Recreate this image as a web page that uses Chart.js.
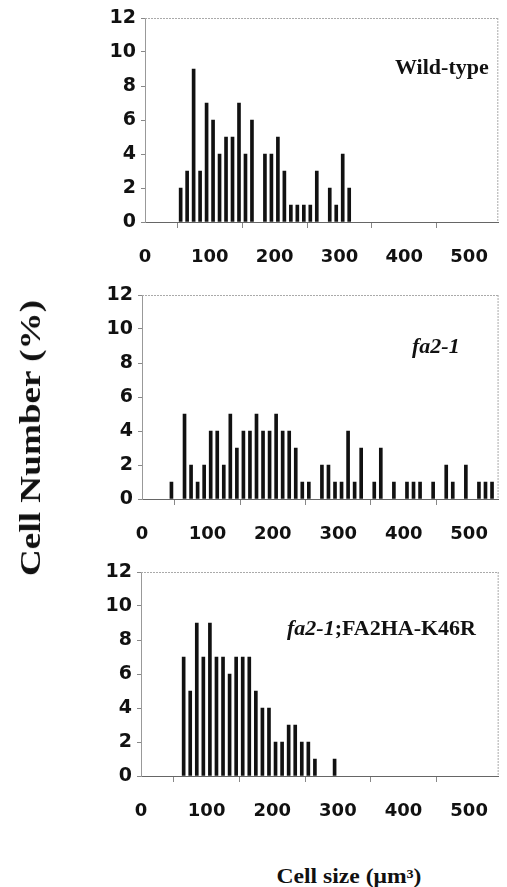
<!DOCTYPE html>
<html>
<head>
<meta charset="utf-8">
<script src="https://cdn.jsdelivr.net/npm/chart.js@4.4.1/dist/chart.umd.min.js"></script>
<style>
  html, body { margin: 0; padding: 0; background: #fff; }
  #wrap { position: relative; width: 507px; height: 887px; overflow: hidden; background: #fff; }
  .pane { position: absolute; left: 0; width: 507px; height: 270px; }
  .txt { position: absolute; font-family: "Liberation Serif", "Times New Roman", serif; font-weight: bold; color: #111; white-space: nowrap; }
</style>
</head>
<body>
<div id="wrap">
  <div class="pane" style="top:0px"><canvas id="c1"></canvas></div>
  <div class="pane" style="top:277px"><canvas id="c2"></canvas></div>
  <div class="pane" style="top:554px"><canvas id="c3"></canvas></div>
  <div class="txt" id="ytitle" style="font-size:30px; left:30px; top:438px; transform: translate(-50%,-50%) rotate(-90deg) scaleX(1.24);">Cell Number (%)</div>
  <div class="txt" id="xtitle" style="font-size:20px; left:349px; top:876px; transform: translate(-50%,-50%) scaleX(1.18);">Cell size (μm³)</div>
  <div class="txt" style="font-size:22px; left:395px; top:54px;">Wild-type</div>
  <div class="txt" style="font-size:22px; left:412px; top:333px; font-style:italic;">fa2-1</div>
  <div class="txt" style="font-size:22px; left:287px; top:615px;"><i>fa2-1</i>;FA2HA-K46R</div>
</div>
<script>
// Bin centres (cell size, µm³)
const sizeBins = [45,55,65,75,85,95,105,115,125,135,145,155,165,175,185,195,205,215,225,235,245,255,265,275,285,295,305,315,325,335,345,355,365,375,385,395,405,415,425,435,445,455,465,475,485,495,505,515,525,535];
// Cell number (%) per bin
const wildType = [0,2,3,9,3,7,6,4,5,5,7,4,6,0,4,4,5,3,1,1,1,1,3,0,2,1,4,2,0,0,0,0,0,0,0,0,0,0,0,0,0,0,0,0,0,0,0,0,0,0];
const fa21     = [1,0,5,2,1,2,4,4,2,5,3,4,4,5,4,4,5,4,4,3,1,1,0,2,2,1,1,4,1,3,0,1,3,0,1,0,1,1,1,0,1,0,2,1,0,2,0,1,1,1];
const fa21K46R = [0,0,7,5,9,7,9,7,7,6,7,7,7,5,4,4,2,2,3,3,2,2,1,0,0,1,0,0,0,0,0,0,0,0,0,0,0,0,0,0,0,0,0,0,0,0,0,0,0,0];
const xTicks = [0,100,200,300,400,500];
const yTicks = [0,2,4,6,8,10,12];

const framePlugin = {
  id: 'frame',
  afterDraw(chart) {
    const {ctx, chartArea: a} = chart;
    ctx.save();
    ctx.strokeStyle = '#aaa';
    ctx.lineWidth = 1;
    ctx.setLineDash([2, 1]);
    ctx.beginPath();
    ctx.moveTo(a.left, a.top + 0.5); ctx.lineTo(a.right, a.top + 0.5);
    ctx.moveTo(a.right - 0.5, a.top); ctx.lineTo(a.right - 0.5, a.bottom);
    ctx.stroke();
    ctx.restore();
  }
};

function makeChart(id, values, yWidth) {
  const pts = sizeBins.map((b, i) => ({x: b, y: values[i]})).filter(p => p.y > 0);
  return new Chart(document.getElementById(id), {
    type: 'bar',
    data: { datasets: [{ data: pts, backgroundColor: '#111', borderWidth: 0, barThickness: 3 }] },
    plugins: [framePlugin],
    options: {
      responsive: true, maintainAspectRatio: false, animation: false,
      layout: { padding: { top: 18, right: 1, left: 0, bottom: 0 } },
      plugins: { legend: { display: false }, tooltip: { enabled: false } },
      scales: {
        x: {
          type: 'linear', min: 0, max: 545, offset: false,
          afterBuildTicks: s => { s.ticks = xTicks.map(v => ({value: v})); },
          afterFit: s => { s.height = 48; },
          grid: { drawOnChartArea: false, drawTicks: true, tickLength: 6, color: '#888' },
          border: { display: true, color: '#666', width: 1 },
          ticks: { padding: 19, color: '#111', font: { family: 'DejaVu Sans', weight: 'bold', size: 18 } }
        },
        y: {
          min: 0, max: 12,
          afterBuildTicks: s => { s.ticks = yTicks.map(v => ({value: v})); },
          afterFit: s => { s.width = yWidth; },
          grid: { drawOnChartArea: false, drawTicks: true, tickLength: 4, color: '#888' },
          border: { display: true, color: '#999', width: 1, dash: [2,1] },
          ticks: { padding: 5, color: '#111', font: { family: 'DejaVu Sans', weight: 'bold', size: 19 } }
        }
      }
    }
  });
}
makeChart('c1', wildType, 145);
makeChart('c2', fa21, 142);
makeChart('c3', fa21K46R, 141);
</script>
</body>
</html>
